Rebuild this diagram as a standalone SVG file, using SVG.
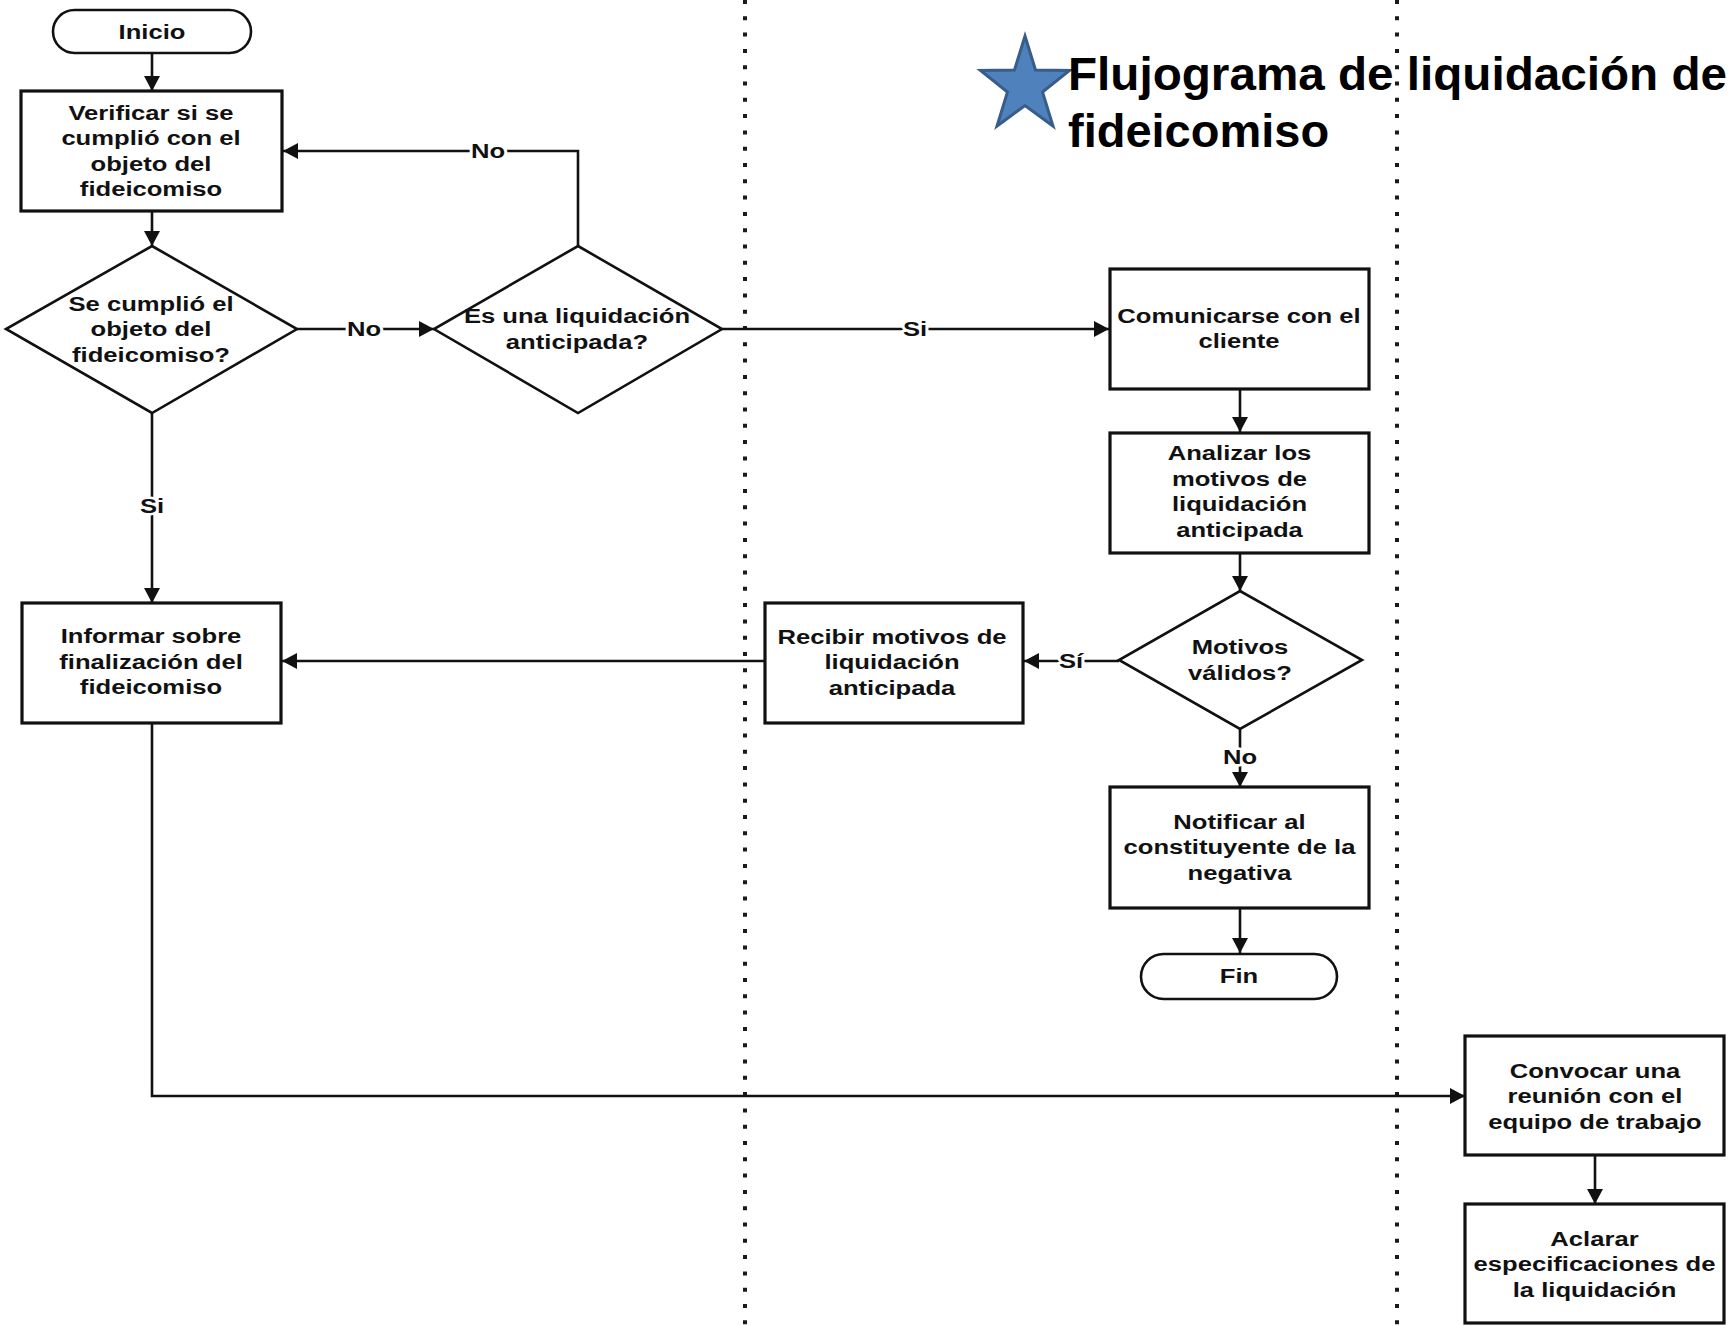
<svg xmlns="http://www.w3.org/2000/svg" width="1730" height="1326" viewBox="0 0 1730 1326">
<style>
.lane{stroke:#1a1a1a;stroke-width:4;stroke-dasharray:4 12.3;fill:none}
.box{fill:#fff;stroke:#111;stroke-width:3.2}
.dec{fill:#fff;stroke:#111;stroke-width:2.6}
.con{fill:none;stroke:#111;stroke-width:2.6}
.t{font-family:"Liberation Sans",Arial,sans-serif;font-size:21px;font-weight:bold;text-anchor:middle;fill:#111}
.el{font-family:"Liberation Sans",Arial,sans-serif;font-size:21px;font-weight:bold;text-anchor:middle;fill:#111;paint-order:stroke;stroke:#fff;stroke-width:5px;stroke-linejoin:round}
.title{font-family:"Liberation Sans",Arial,sans-serif;font-size:47px;font-weight:bold;fill:#000}
</style>
<defs>
<marker id="ah" markerUnits="userSpaceOnUse" markerWidth="16" markerHeight="17" refX="15" refY="8" orient="auto">
<path d="M0,0 L15,8 L0,16 z" fill="#111"/>
</marker>
</defs>
<rect x="0" y="0" width="1730" height="1326" fill="#fff"/>
<g id="lanes">
<line class="lane" x1="745" y1="0" x2="745" y2="1326"/>
<line class="lane" x1="1397" y1="0" x2="1397" y2="1326"/>
</g>
<g id="title">
<polygon points="1025,36 1035.5,70 1069.5,70.5 1042.5,92 1053,126 1025,105.5 997,126 1007.5,92 980.5,70.5 1014.5,70" fill="#4F81BD" stroke="#385D8A" stroke-width="3" stroke-linejoin="miter"/>
<text class="title" x="1068" y="90" textLength="659" lengthAdjust="spacingAndGlyphs">Flujograma de liquidación de</text>
<text class="title" x="1068" y="147">fideicomiso</text>
</g>
<g id="connectors">
<line class="con" x1="152" y1="53" x2="152" y2="91" marker-end="url(#ah)"/>
<line class="con" x1="152" y1="211" x2="152" y2="246" marker-end="url(#ah)"/>
<line class="con" x1="297" y1="329" x2="434" y2="329" marker-end="url(#ah)"/>
<path class="con" d="M578,246 V151 H283" marker-end="url(#ah)"/>
<line class="con" x1="722" y1="329" x2="1109" y2="329" marker-end="url(#ah)"/>
<line class="con" x1="1240" y1="389" x2="1240" y2="432" marker-end="url(#ah)"/>
<line class="con" x1="1240" y1="553" x2="1240" y2="591" marker-end="url(#ah)"/>
<line class="con" x1="1119" y1="661" x2="1024" y2="661" marker-end="url(#ah)"/>
<line class="con" x1="764" y1="661" x2="282" y2="661" marker-end="url(#ah)"/>
<line class="con" x1="152" y1="413" x2="152" y2="603" marker-end="url(#ah)"/>
<line class="con" x1="1240" y1="729" x2="1240" y2="787" marker-end="url(#ah)"/>
<line class="con" x1="1240" y1="908" x2="1240" y2="953" marker-end="url(#ah)"/>
<path class="con" d="M152,723 V1096 H1465" marker-end="url(#ah)"/>
<line class="con" x1="1595" y1="1155" x2="1595" y2="1204" marker-end="url(#ah)"/>
<g transform="translate(364 0) scale(1.22 1)"><text class="el" x="0" y="336.5">No</text></g>
<g transform="translate(488 0) scale(1.22 1)"><text class="el" x="0" y="158.5">No</text></g>
<g transform="translate(915 0) scale(1.22 1)"><text class="el" x="0" y="336.5">Si</text></g>
<g transform="translate(152 0) scale(1.22 1)"><text class="el" x="0" y="513.5">Si</text></g>
<g transform="translate(1071 0) scale(1.22 1)"><text class="el" x="0" y="668.5">Sí</text></g>
<g transform="translate(1240 0) scale(1.22 1)"><text class="el" x="0" y="764.5">No</text></g>
</g>
<g id="inicio">
<rect class="dec" x="53" y="10" width="198" height="43" rx="21.5"/>
<g transform="translate(152 0) scale(1.22 1)"><text class="t" x="0" y="39">Inicio</text></g>
</g>
<g id="verificar">
<rect class="box" x="21" y="91" width="261" height="120"/>
<g transform="translate(151 0) scale(1.22 1)">
<text class="t" x="0" y="120">Verificar si se</text>
<text class="t" x="0" y="145.5">cumplió con el</text>
<text class="t" x="0" y="171">objeto del</text>
<text class="t" x="0" y="196.5">fideicomiso</text>
</g>
</g>
<g id="cumplio">
<polygon class="dec" points="152,246 297,329 152,413 6,329"/>
<g transform="translate(151 0) scale(1.22 1)">
<text class="t" x="0" y="311">Se cumplió el</text>
<text class="t" x="0" y="336.5">objeto del</text>
<text class="t" x="0" y="362">fideicomiso?</text>
</g>
</g>
<g id="anticipada">
<polygon class="dec" points="578,246 722,329 578,413 434,329"/>
<g transform="translate(577 0) scale(1.22 1)">
<text class="t" x="0" y="323.5">Es una liquidación</text>
<text class="t" x="0" y="349">anticipada?</text>
</g>
</g>
<g id="comunicarse">
<rect class="box" x="1110" y="269" width="259" height="120"/>
<g transform="translate(1239 0) scale(1.22 1)">
<text class="t" x="0" y="323">Comunicarse con el</text>
<text class="t" x="0" y="348.5">cliente</text>
</g>
</g>
<g id="analizar">
<rect class="box" x="1110" y="433" width="259" height="120"/>
<g transform="translate(1239.5 0) scale(1.22 1)">
<text class="t" x="0" y="460.5">Analizar los</text>
<text class="t" x="0" y="486">motivos de</text>
<text class="t" x="0" y="511.5">liquidación</text>
<text class="t" x="0" y="537">anticipada</text>
</g>
</g>
<g id="validos">
<polygon class="dec" points="1240,591 1362,660 1240,729 1119,660"/>
<g transform="translate(1240 0) scale(1.22 1)">
<text class="t" x="0" y="654.5">Motivos</text>
<text class="t" x="0" y="680">válidos?</text>
</g>
</g>
<g id="recibir">
<rect class="box" x="765" y="603" width="258" height="120"/>
<g transform="translate(892 0) scale(1.22 1)">
<text class="t" x="0" y="644">Recibir motivos de</text>
<text class="t" x="0" y="669.5">liquidación</text>
<text class="t" x="0" y="695">anticipada</text>
</g>
</g>
<g id="informar">
<rect class="box" x="22" y="603" width="259" height="120"/>
<g transform="translate(151 0) scale(1.22 1)">
<text class="t" x="0" y="643.5">Informar sobre</text>
<text class="t" x="0" y="669">finalización del</text>
<text class="t" x="0" y="694.5">fideicomiso</text>
</g>
</g>
<g id="notificar">
<rect class="box" x="1110" y="787" width="259" height="121"/>
<g transform="translate(1239.5 0) scale(1.22 1)">
<text class="t" x="0" y="829">Notificar al</text>
<text class="t" x="0" y="854.5">constituyente de la</text>
<text class="t" x="0" y="880">negativa</text>
</g>
</g>
<g id="fin">
<rect class="dec" x="1141" y="954" width="196" height="45" rx="22.5"/>
<g transform="translate(1239 0) scale(1.22 1)"><text class="t" x="0" y="983">Fin</text></g>
</g>
<g id="convocar">
<rect class="box" x="1465" y="1036" width="259" height="119"/>
<g transform="translate(1595 0) scale(1.22 1)">
<text class="t" x="0" y="1078">Convocar una</text>
<text class="t" x="0" y="1103.5">reunión con el</text>
<text class="t" x="0" y="1129">equipo de trabajo</text>
</g>
</g>
<g id="aclarar">
<rect class="box" x="1465" y="1204" width="259" height="119"/>
<g transform="translate(1594.5 0) scale(1.22 1)">
<text class="t" x="0" y="1246">Aclarar</text>
<text class="t" x="0" y="1271.5">especificaciones de</text>
<text class="t" x="0" y="1297">la liquidación</text>
</g>
</g>
</svg>
